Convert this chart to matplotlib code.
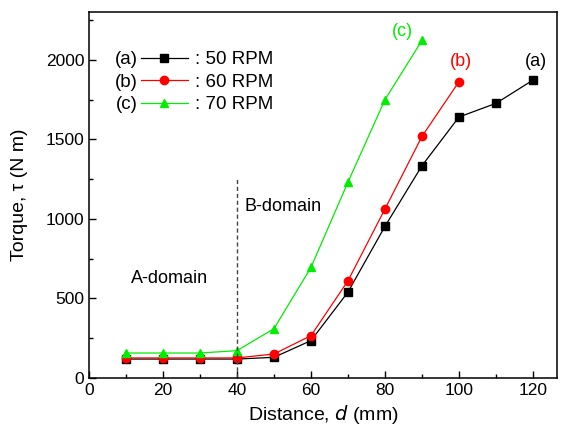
import matplotlib
matplotlib.use("Agg")
import matplotlib.pyplot as plt
from matplotlib.ticker import MultipleLocator
from matplotlib.transforms import IdentityTransform

plt.rcParams['font.family'] = ['Liberation Sans', 'DejaVu Sans']

# distance (mm) and torque (N m) for the three rotating speeds
dist_a = [10, 20, 30, 40, 50, 60, 70, 80, 90, 100, 110, 120]
torque_a = [119, 119, 119, 119, 130, 235, 540, 953, 1334, 1640, 1726, 1872]
dist_b = [10, 20, 30, 40, 50, 60, 70, 80, 90, 100]
torque_b = [126, 126, 126, 126, 151, 266, 611, 1062, 1518, 1862]
dist_c = [10, 20, 30, 40, 50, 60, 70, 80, 90]
torque_c = [157, 157, 157, 172, 310, 695, 1231, 1749, 2121]

series_tags = ['(a)', '(b)', '(c)']
series_labels = [': 50 RPM', ': 60 RPM', ': 70 RPM']
colors = ['black', 'red', '#00ee00']
markers = ['s', 'o', '^']


def main():
    W, H = 567, 438
    fig = plt.figure(figsize=(W / 100, H / 100), dpi=100)
    ax = fig.add_axes([89 / W, 1 - 378 / H, 468 / W, 366 / H])

    data = [(dist_a, torque_a), (dist_b, torque_b), (dist_c, torque_c)]
    handles = []
    for (x, y), c, m, lab in zip(data, colors, markers, series_labels):
        h, = ax.plot(x, y, color=c, lw=0.9, marker=m, ms=6, mec=c, mfc=c, label=lab)
        handles.append(h)

    ax.plot([40, 40], [0, 1260], color='#444444', lw=1.0, ls=(0, (3, 2)))
    ax.text(42, 1080, 'B-domain', fontsize=13, va='center', ha='left')
    ax.text(11.4, 628, 'A-domain', fontsize=13, va='center', ha='left')

    # curve tags at the end of each series
    ax.text(84.8, 2175, '(c)', color=colors[2], fontsize=13, ha='center', va='center')
    ax.text(100.4, 1990, '(b)', color=colors[1], fontsize=13, ha='center', va='center')
    ax.text(120.9, 1990, '(a)', color='black', fontsize=13, ha='center', va='center')

    ax.set_xlim(0, 126.5)
    ax.set_ylim(0, 2300)
    ax.xaxis.set_major_locator(MultipleLocator(20))
    ax.xaxis.set_minor_locator(MultipleLocator(10))
    ax.yaxis.set_major_locator(MultipleLocator(500))
    ax.yaxis.set_minor_locator(MultipleLocator(250))
    ax.tick_params(which='both', direction='in', labelsize=12.5, top=False, right=False)
    ax.tick_params(which='major', length=5, width=1)
    ax.tick_params(which='minor', length=3, width=1)
    for s in ax.spines.values():
        s.set_linewidth(1.1)

    ax.set_xlabel('Distance, $\\mathit{d}$ (mm)', fontsize=14)
    ax.set_ylabel('Torque, τ (N m)', fontsize=14)
    ax.yaxis.set_label_coords(-0.13, 0.5)

    # legend, then shift it so the first label sits where the reference has it
    anchor = [141, H - 48]
    leg = ax.legend(handles=handles, loc='upper left', bbox_to_anchor=anchor,
                    bbox_transform=IdentityTransform(), frameon=False, fontsize=13.5,
                    handlelength=2.5, handletextpad=0.37, labelspacing=0.28,
                    borderaxespad=0, borderpad=0)
    fig.canvas.draw()
    r = fig.canvas.get_renderer()
    bb = leg.get_texts()[0].get_window_extent(r)
    dy = (H - 60) - (bb.y0 + bb.y1) / 2
    anchor[1] += dy
    leg.set_bbox_to_anchor(anchor, transform=IdentityTransform())
    fig.canvas.draw()
    for t, tag in zip(leg.get_texts(), series_tags):
        b = t.get_window_extent(r)
        ax.annotate(tag, xy=(138, (b.y0 + b.y1) / 2), xycoords='figure pixels',
                    fontsize=13.5, ha='right', va='center')

    fig.savefig('out.png', dpi=100)


if __name__ == '__main__':
    main()
